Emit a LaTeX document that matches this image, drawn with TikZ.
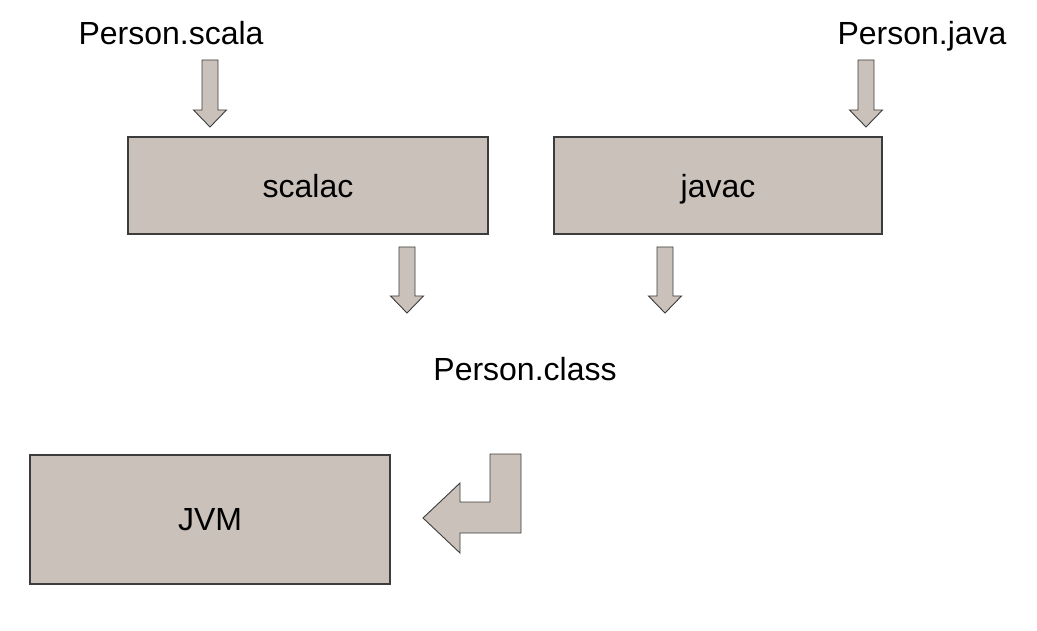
\documentclass[tikz,border=0pt]{standalone}
\usepackage{fontspec}
\setmainfont{Liberation Sans}
\usetikzlibrary{positioning, calc}

\definecolor{boxfill}{RGB}{201,193,186}
\definecolor{boxline}{RGB}{60,60,60}

\begin{document}
\begin{tikzpicture}[
    x=1pt, y=-1pt,
    tool/.style={rectangle, draw=boxline, line width=1.2pt, fill=boxfill, inner sep=0pt, text depth=0pt, font=\fontsize{32}{38}\selectfont},
    file/.style={draw=none, anchor=base, inner sep=0pt, font=\fontsize{32}{38}\selectfont},
    blockarrow/.style={draw=boxline, line width=0.9pt, fill=boxfill, line join=miter},
]
\useasboundingbox (0,0) rectangle (1037,631);

% Files
\node (ScalaFile) at (171,45) [file] {Person.scala};
\node (JavaFile) at (922,45) [file] {Person.java};
\node (ClassFile) at (525,381) [file] {Person.class};

% Compilers
\node (Scalac) at (308,185.5) [tool, minimum width=360pt, minimum height=97pt] {scalac};
\node (Javac) at (718,185.5) [tool, minimum width=328pt, minimum height=97pt] {javac};

% Runtime
\node (JVM) at (210,519.5) [tool, minimum width=360pt, minimum height=129pt] {JVM};

% Arrow ends
\coordinate (ScalaIn) at (210,60);
\coordinate (ScalaInTip) at (210,127);
\coordinate (JavaIn) at (866,60);
\coordinate (JavaInTip) at (866,127);
\coordinate (ScalaOut) at (407,247);
\coordinate (ScalaOutTip) at (407,313);
\coordinate (JavaOut) at (665,247);
\coordinate (JavaOutTip) at (665,313);
\coordinate (RunTip) at (423,518);

% Block arrows down
\foreach \a/\b in {ScalaIn/ScalaInTip, JavaIn/JavaInTip, ScalaOut/ScalaOutTip, JavaOut/JavaOutTip}
    \draw[blockarrow] ([xshift=-8pt]\a) -- ([xshift=8pt]\a) -- ([xshift=8pt,yshift=17pt]\b)
        -- ([xshift=16.5pt,yshift=17pt]\b) -- (\b) -- ([xshift=-16.5pt,yshift=17pt]\b)
        -- ([xshift=-8pt,yshift=17pt]\b) -- cycle;

% Bent arrow to the JVM
\draw[blockarrow] (RunTip) -- ++(37,-35) -- ++(0,19) -- ++(30,0) -- ++(0,-48) -- ++(31,0)
    -- ++(0,79) -- ++(-61,0) -- ++(0,20) -- cycle;

\end{tikzpicture}
\end{document}
